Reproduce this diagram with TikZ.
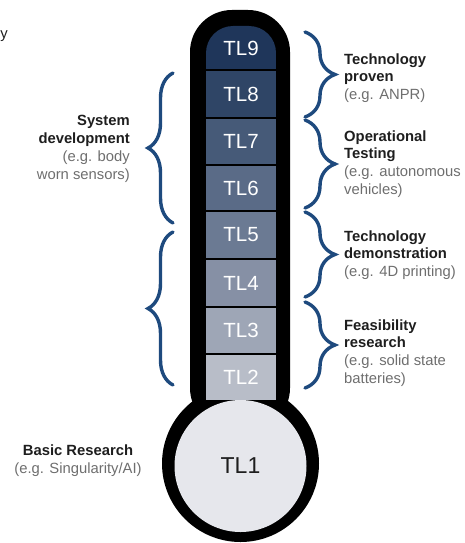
\documentclass[tikz,border=0pt]{standalone}
\usepackage{fontspec}
\setmainfont{Liberation Sans}
\usetikzlibrary{decorations.pathreplacing}
\definecolor{c9}{HTML}{1F365A}
\definecolor{c8}{HTML}{2F4566}
\definecolor{c7}{HTML}{465A78}
\definecolor{c6}{HTML}{5A6B87}
\definecolor{c5}{HTML}{6B7A93}
\definecolor{c4}{HTML}{8690A5}
\definecolor{c3}{HTML}{9EA6B6}
\definecolor{c2}{HTML}{B8BDC8}
\definecolor{bulbc}{HTML}{E6E7EC}
\definecolor{bracec}{HTML}{1E4A7E}
\definecolor{graytxt}{HTML}{6E6E6E}
\definecolor{boldtxt}{HTML}{1E1E1E}
\newcommand{\hd}[1]{\textcolor{boldtxt}{\textbf{#1}}}
\newcommand{\eg}[1]{\textcolor{graytxt}{#1}}
\begin{document}
\begin{tikzpicture}[x=1pt,y=-1pt,
  tlabel/.style={text=white, font=\fontsize{20.5}{24}\selectfont, inner sep=0pt},
  bracedeco/.style={draw=bracec, line width=3.4pt, line cap=round, decorate, decoration={brace, amplitude=#1}},
  lbl/.style={font=\fontsize{14.8}{17.8}\selectfont, inner sep=0pt},
  sep/.style={draw=black, line width=2pt},
 ]
\useasboundingbox (0,0) rectangle (465,543);
% thermometer body
\fill[black, rounded corners=42pt] (190,10) rectangle (290,430);
\fill[black] (240.5,463.5) circle[radius=78.5];
\begin{scope}
  \clip[rounded corners=27pt] (206,26) rectangle (276,440);
  \fill[c9] (206,20) rectangle (276,70);
  \fill[c8] (206,70) rectangle (276,118);
  \fill[c7] (206,118) rectangle (276,165);
  \fill[c6] (206,165) rectangle (276,211);
  \fill[c5] (206,211) rectangle (276,259);
  \fill[c4] (206,259) rectangle (276,307);
  \fill[c3] (206,307) rectangle (276,354);
  \fill[c2] (206,354) rectangle (276,400);
\end{scope}
\foreach \yy in {70,118,165,211,259,307,354}
  \draw[sep] (206,\yy) -- (276,\yy);
\fill[bulbc] (240.5,466) circle[radius=66];
% level labels
\node[tlabel] (tl9) at (241,48) {TL9};
\node[tlabel] (tl8) at (241,94) {TL8};
\node[tlabel] (tl7) at (241,141.5) {TL7};
\node[tlabel] (tl6) at (241,188) {TL6};
\node[tlabel] (tl5) at (241,235) {TL5};
\node[tlabel] (tl4) at (241,283) {TL4};
\node[tlabel] (tl3) at (241,330.5) {TL3};
\node[tlabel] (tl2) at (241,377) {TL2};
\node[tlabel, text=boldtxt, font=\fontsize{23}{27}\selectfont] (tl1) at (240.5,466) {TL1};
% brace end points
\coordinate (r1a) at (305,32);  \coordinate (r1b) at (305,117);
\coordinate (r2a) at (305,120); \coordinate (r2b) at (305,208);
\coordinate (r3a) at (305,212); \coordinate (r3b) at (305,297);
\coordinate (r4a) at (305,302); \coordinate (r4b) at (305,388);
\coordinate (l1a) at (173,73);  \coordinate (l1b) at (173,223);
\coordinate (l2a) at (173,232); \coordinate (l2b) at (173,385);
\draw[bracedeco=30pt] (r1a) -- (r1b);
\draw[bracedeco=30pt] (r2a) -- (r2b);
\draw[bracedeco=30pt] (r3a) -- (r3b);
\draw[bracedeco=30pt] (r4a) -- (r4b);
\draw[bracedeco=25pt] (l1b) -- (l1a);
\draw[bracedeco=25pt] (l2b) -- (l2a);
% text labels
\node[lbl, anchor=west, align=left] (proven) at (344,78) {\hd{Technology}\\\hd{proven}\\\eg{(e.g. ANPR)}};
\node[lbl, anchor=west, align=left] (optest) at (344,164) {\hd{Operational}\\\hd{Testing}\\\eg{(e.g. autonomous}\\\eg{vehicles)}};
\node[lbl, anchor=west, align=left] (demo) at (344,255) {\hd{Technology}\\\hd{demonstration}\\\eg{(e.g. 4D printing)}};
\node[lbl, anchor=west, align=left] (feas) at (344,353) {\hd{Feasibility}\\\hd{research}\\\eg{(e.g. solid state}\\\eg{batteries)}};
\node[lbl, anchor=east, align=right] (sysdev) at (130,149) {\hd{System}\\\hd{development}\\\eg{(e.g. body}\\\eg{worn sensors)}};
\node[lbl, align=center] (basic) at (78,461) {\hd{Basic Research}\\\eg{(e.g. Singularity/AI)}};
\node[lbl, anchor=east, text=boldtxt] (frag) at (8,36) {y};
\end{tikzpicture}
\end{document}
